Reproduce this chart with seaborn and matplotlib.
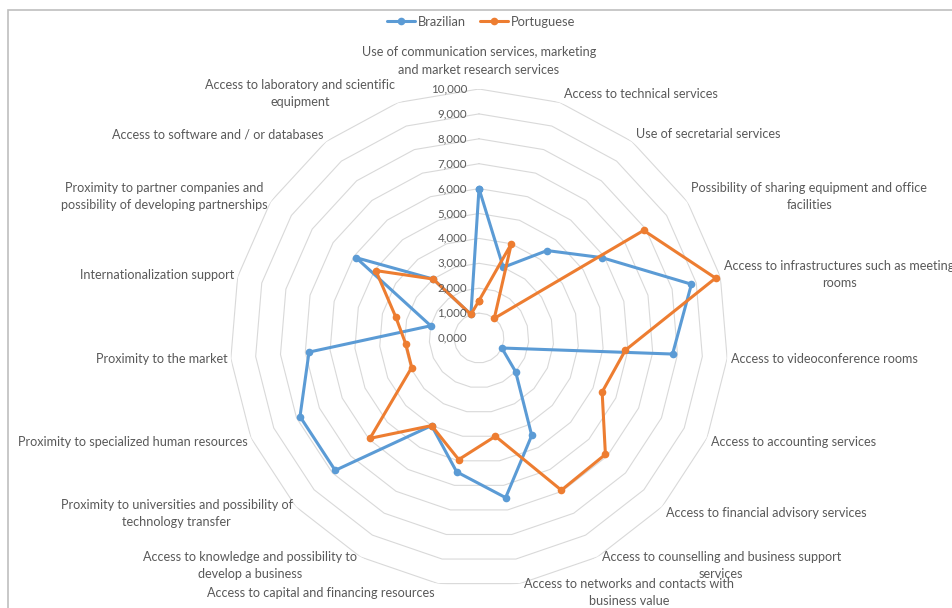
import numpy as np
import pandas as pd
import matplotlib
matplotlib.use("Agg")
import matplotlib.pyplot as plt
from matplotlib.lines import Line2D
from matplotlib.patches import Rectangle
import seaborn as sns

categories = [
    "Use of communication services, marketing\nand market research services",
    "Access to technical services",
    "Use of secretarial services",
    "Possibility of sharing equipment and office\nfacilities",
    "Access to infrastructures such as meeting\nrooms",
    "Access to videoconference rooms",
    "Access to accounting services",
    "Access to financial advisory services",
    "Access to counselling and business support\nservices",
    "Access to networks and contacts with\nbusiness value",
    "Access to capital and financing resources",
    "Access to knowledge and possibility to\ndevelop a business",
    "Proximity to universities and possibility of\ntechnology transfer",
    "Proximity to specialized human resources",
    "Proximity to the market",
    "Internationalization support",
    "Proximity to partner companies and\npossibility of developing partnerships",
    "Access to software and / or databases",
    "Access to laboratory and scientific\nequipment",
]
brazilian = [6000, 3000, 4450, 5900, 8800, 7800, 1000, 2000, 4450, 6500,
             5450, 4000, 7850, 7850, 6850, 2000, 5900, 3000, 1000]
portuguese = [1500, 4000, 1000, 7900, 9800, 5900, 5400, 6900, 6950, 4000,
              4950, 4000, 5950, 2950, 2950, 3450, 4950, 3000, 1000]
series_names = ["Brazilian", "Portuguese"]
tick_values = [0, 1000, 2000, 3000, 4000, 5000, 6000, 7000, 8000, 9000, 10000]
tick_labels = ["0,000", "1,000", "2,000", "3,000", "4,000", "5,000",
               "6,000", "7,000", "8,000", "9,000", "10,000"]
colors = {"Brazilian": "#5B9BD5", "Portuguese": "#ED7D31"}

sns.set_style("white")
plt.rcParams["font.family"] = ["Lato", "DejaVu Sans"]

W, H = 952, 608
fig = plt.figure(figsize=(W / 100, H / 100), dpi=100)
fig.patch.set_facecolor("white")

cx, cy, R = 479, 338, 249
ax = fig.add_axes([(cx - R) / W, (H - cy - R) / H, 2 * R / W, 2 * R / H],
                  projection="polar")
ax.set_theta_zero_location("N")
ax.set_theta_direction(-1)
ax.set_facecolor("none")

n = len(categories)
angles = np.arange(n) * 2 * np.pi / n
closed = np.append(angles, 2 * np.pi)

rows = []
for name, vals in zip(series_names, [brazilian, portuguese]):
    vv = list(vals) + [vals[0]]
    for i, (t, v) in enumerate(zip(closed, vv)):
        rows.append({"theta": t, "value": v, "series": name, "order": i})
df = pd.DataFrame(rows)

# polygon gridlines
for lv in tick_values[1:]:
    ax.plot(closed, [lv] * len(closed), color="#D9D9D9", lw=0.8, zorder=0)

sns.lineplot(data=df, x="theta", y="value", hue="series", hue_order=series_names,
             palette=colors, sort=False, estimator=None, marker="o",
             markersize=5.5, markeredgewidth=0, linewidth=2.2, ax=ax,
             legend=False, zorder=3)

ax.set_ylim(0, 10000)
ax.grid(False)
ax.spines["polar"].set_visible(False)
ax.set_xticks([])
ax.set_yticks([])
ax.set_xlabel("")
ax.set_ylabel("")

txtc = "#595959"
fs = 9.1
ls = 1.5
# radial tick labels
for v, lab in zip(tick_values, tick_labels):
    ax.annotate(lab, xy=(0, v), xytext=(-12, 0), textcoords="offset pixels",
                ha="right", va="center", fontsize=8.3, color=txtc)

# category labels
for k, (t, lab) in enumerate(zip(angles, categories)):
    s, c = np.sin(t), np.cos(t)
    if k == 0:
        ax.annotate(lab, xy=(t, 10000), xytext=(0, 28), textcoords="offset pixels",
                    ha="center", va="center", multialignment="center",
                    fontsize=fs, color=txtc, linespacing=ls, annotation_clip=False)
        continue
    ha = "left" if s > 0 else "right"
    dx = 4 if s > 0 else -3
    dy = 9.5 * c
    ax.annotate(lab, xy=(t, 10000), xytext=(dx, dy), textcoords="offset pixels",
                ha=ha, va="center", multialignment="center", fontsize=fs,
                color=txtc, linespacing=ls, annotation_clip=False)

# legend
handles = [Line2D([0], [0], color=colors[nm], lw=2.2, marker="o", markersize=5.5,
                  markeredgewidth=0) for nm in series_names]
fig.legend(handles, series_names, loc="center", bbox_to_anchor=(481 / W, 1 - 22 / H),
           ncol=2, frameon=False, fontsize=9.3, handlelength=2.2,
           handletextpad=0.2, columnspacing=1.1, labelcolor=txtc)

# chart border (cropped)
fig.add_artist(Rectangle((8 / W, -0.1), 1.2, 1 - 10 / H + 0.1,
                         transform=fig.transFigure, fill=False,
                         edgecolor="#BFBFBF", lw=1.2))

fig.savefig("out.png", dpi=100, facecolor="white")
